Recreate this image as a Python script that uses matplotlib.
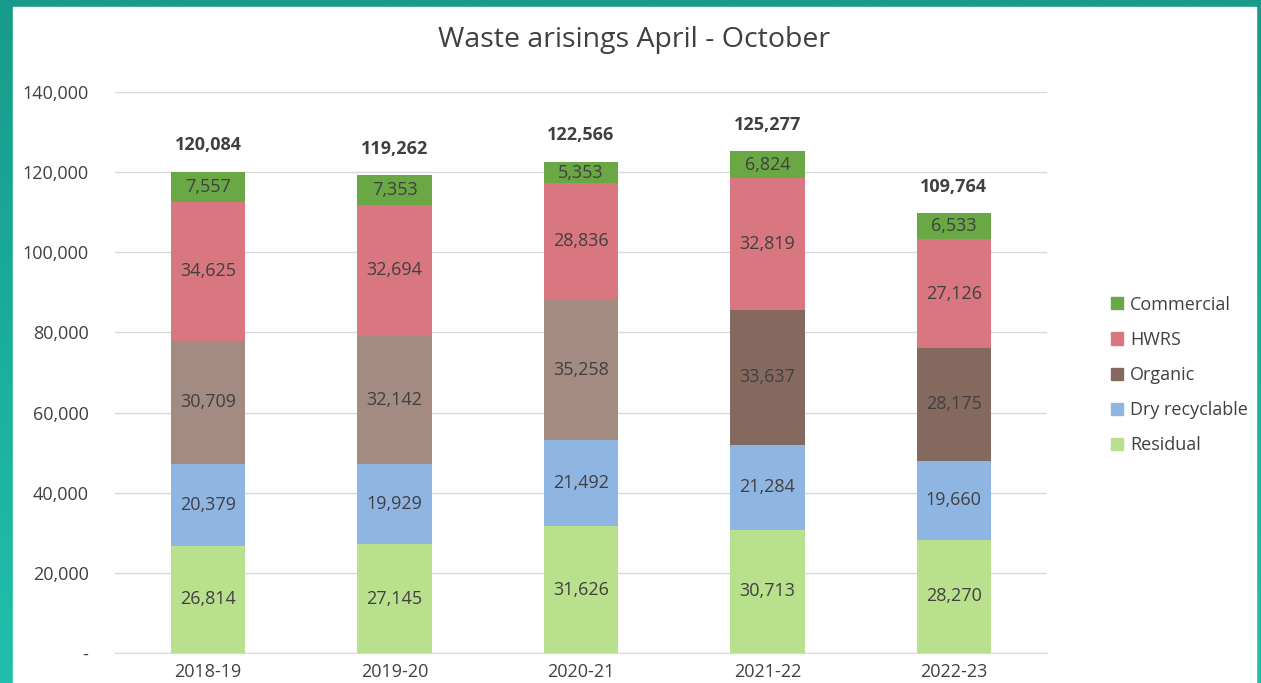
import numpy as np
import matplotlib
matplotlib.use("Agg")
import matplotlib.pyplot as plt
from matplotlib.colors import LinearSegmentedColormap
from matplotlib.patches import Patch

plt.rcParams['font.family'] = ['Open Sans', 'DejaVu Sans']

years = ["2018-19", "2019-20", "2020-21", "2021-22", "2022-23"]
residual = [26814, 27145, 31626, 30713, 28270]
dry_recyclable = [20379, 19929, 21492, 21284, 19660]
organic = [30709, 32142, 35258, 33637, 28175]
hwrs = [34625, 32694, 28836, 32819, 27126]
commercial = [7557, 7353, 5353, 6824, 6533]
totals = [120084, 119262, 122566, 125277, 109764]

c_res = "#b9e08c"
c_dry = "#8fb6e2"
c_org_light = "#a38b81"
c_org_dark = "#85695e"
c_hwrs = "#d97780"
c_com = "#6aa745"
organic_colors = [c_org_light, c_org_light, c_org_light, c_org_dark, c_org_dark]
txt = "#404040"

fig = plt.figure(figsize=(12.61, 6.83), dpi=100)

# teal frame with vertical gradient
bg = fig.add_axes([0, 0, 1, 1], zorder=-10)
cmap = LinearSegmentedColormap.from_list("teal", ["#179b8a", "#20c0ac"])
bg.imshow(np.linspace(0, 1, 256).reshape(-1, 1), aspect="auto", cmap=cmap,
          extent=[0, 1, 0, 1], origin="upper")
bg.add_patch(plt.Rectangle((13 / 1261, 0), (1256 - 13) / 1261, 1 - 7 / 683,
                           color="white", transform=bg.transAxes))
bg.set_xlim(0, 1)
bg.set_ylim(0, 1)
bg.axis("off")

ax = fig.add_axes([115 / 1261, 1 - 653 / 683, (1047 - 115) / 1261, (653 - 92) / 683])
ax.patch.set_alpha(0)

x = np.arange(len(years))
w = 0.4
series = [
    (residual, c_res, "Residual"),
    (dry_recyclable, c_dry, "Dry recyclable"),
    (organic, organic_colors, "Organic"),
    (hwrs, c_hwrs, "HWRS"),
    (commercial, c_com, "Commercial"),
]
bottom = np.zeros(len(years))
for vals, col, name in series:
    vals = np.array(vals)
    ax.bar(x, vals, w, bottom=bottom, color=col, zorder=3)
    for xi, b, v in zip(x, bottom, vals):
        ax.text(xi, b + v / 2, f"{v:,}", ha="center", va="center",
                fontsize=13, color=txt, zorder=4)
    bottom += vals

for xi, b, t in zip(x, bottom, totals):
    ax.annotate(f"{t:,}", (xi, b), xytext=(0, 19), textcoords="offset points",
                ha="center", va="center", fontsize=13, fontweight="bold", color=txt)

ax.set_xlim(-0.5, len(years) - 0.5)
ax.set_ylim(0, 140000)
yt = np.arange(0, 140001, 20000)
ax.set_yticks(yt)
ax.set_yticklabels(["-"] + [f"{v:,}" for v in yt[1:]])
ax.set_xticks(x)
ax.set_xticklabels(years)
ax.tick_params(axis="both", length=0, labelsize=13, labelcolor=txt)
ax.tick_params(axis="y", pad=19)
ax.tick_params(axis="x", pad=7)
ax.grid(axis="y", color="#d9d9d9", linewidth=1, zorder=0)
for s in ["top", "right", "left"]:
    ax.spines[s].set_visible(False)
ax.spines["bottom"].set_color("#d9d9d9")

fig.text(634 / 1261, 1 - 40 / 683, "Waste arisings April - October",
         ha="center", va="center", fontsize=20.5, color=txt)

handles = [Patch(color=c_com, label="Commercial"),
           Patch(color=c_hwrs, label="HWRS"),
           Patch(color=c_org_dark, label="Organic"),
           Patch(color=c_dry, label="Dry recyclable"),
           Patch(color=c_res, label="Residual")]
leg = fig.legend(handles=handles, loc="center left", bbox_to_anchor=(1095 / 1261, 1 - 375 / 683),
                 frameon=False, fontsize=13, handlelength=0.65, handleheight=0.65,
                 handletextpad=0.4, labelspacing=0.95)
for t in leg.get_texts():
    t.set_color(txt)

fig.savefig("out.png", dpi=100)
